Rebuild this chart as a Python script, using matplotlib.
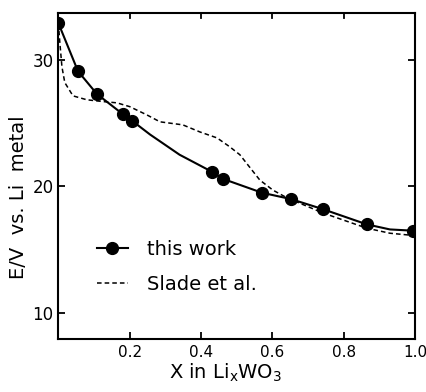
import matplotlib

matplotlib.use("Agg")

import matplotlib.pyplot as plt

# measured points, this work
work_x = [0.0, 0.055, 0.108, 0.181, 0.206, 0.431, 0.461, 0.571, 0.652, 0.742, 0.865, 0.995]
work_y = [32.9, 29.1, 27.3, 25.7, 25.2, 21.15, 20.6, 19.5, 19.0, 18.2, 17.0, 16.5]

# hand drawn curve through the points
curve_x = [0.0, 0.055, 0.108, 0.181, 0.206, 0.257, 0.34, 0.431, 0.461, 0.571, 0.652,
           0.742, 0.865, 0.93, 0.995]
curve_y = [32.9, 29.1, 27.3, 25.7, 25.2, 24.1, 22.5, 21.15, 20.6, 19.5, 19.0,
           18.2, 17.0, 16.6, 16.5]

# Slade et al. curve
slade_x = [0.0, 0.004, 0.01, 0.018, 0.041, 0.08, 0.125, 0.164, 0.2, 0.248,
           0.285, 0.349, 0.397, 0.445, 0.481, 0.509, 0.537, 0.565, 0.602,
           0.641, 0.742, 0.865, 0.93, 0.986, 1.0]
slade_y = [32.9, 31.4, 29.45, 28.2, 27.15, 26.84, 26.7, 26.6, 26.3, 25.65,
           25.1, 24.86, 24.3, 23.83, 23.12, 22.5, 21.5, 20.5, 19.7,
           19.1, 17.9, 16.7, 16.3, 16.15, 16.2]

x_ticks = [0.2, 0.4, 0.6, 0.8, 1.0]
x_tick_labels = ["0.2", "0.4", "0.6", "0.8", "1.0"]
y_ticks = [10, 20, 30]

fig = plt.figure(figsize=(4.26, 3.92), dpi=100)
ax = fig.add_axes([0.137, 0.135, 0.837, 0.832])

ax.plot(curve_x, curve_y, color="black", linewidth=1.5)
ax.plot(work_x, work_y, "o", color="black", markersize=8.5)
ax.plot(slade_x, slade_y, color="black", linewidth=1.1, dashes=(3, 2))

# legend handles
h1, = ax.plot([], [], "-o", color="black", linewidth=1.5, markersize=8.5)
h2, = ax.plot([], [], color="black", linewidth=1.1, dashes=(3, 2))
ax.legend([h1, h2], ["this work", "Slade et al."], loc="upper left",
          bbox_to_anchor=(0.108, 0.305), frameon=False, fontsize=14,
          handlelength=1.6, handletextpad=1.0, labelspacing=0.85,
          borderpad=0, borderaxespad=0)

ax.set_xlim(0, 1.0)
ax.set_ylim(7.94, 33.7)
ax.set_xticks(x_ticks)
ax.set_xticklabels(x_tick_labels)
ax.set_yticks(y_ticks)
ax.tick_params(direction="in", length=5, width=1.3, labelsize=12,
               right=True, top=False)
ax.tick_params(axis="x", labelsize=11, pad=4)
for val in x_ticks[:-1]:
    ax.plot([val, val], [33.7, 33.3], color="black", linewidth=1.3)

for spine in ax.spines.values():
    spine.set_linewidth(1.5)

ax.set_xlabel("X in Li$_\\mathrm{x}$WO$_3$", fontsize=14)
ax.xaxis.set_label_coords(0.47, -0.07)
ax.set_ylabel("E/V  vs. Li  metal", fontsize=14)
ax.yaxis.set_label_coords(-0.086, 0.436)

fig.savefig("out.png", dpi=100)
